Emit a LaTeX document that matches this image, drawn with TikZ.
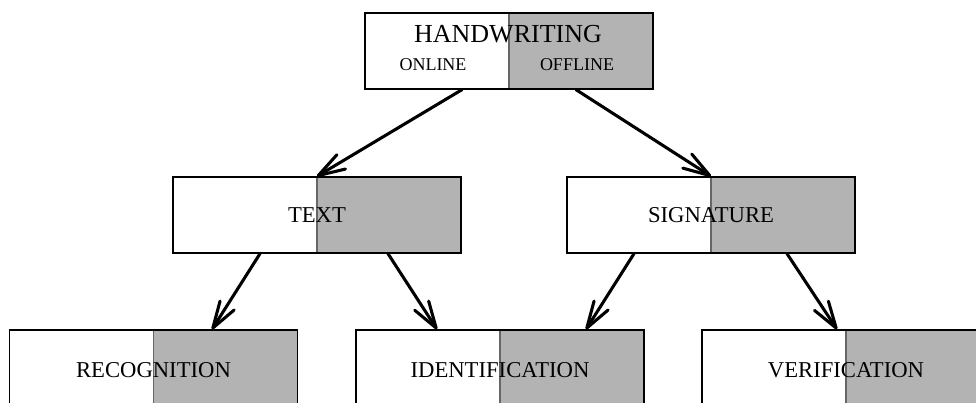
\documentclass[tikz,border=0pt]{standalone}
\usepackage{fontspec}
\setmainfont{Liberation Serif}
\usetikzlibrary{arrows.meta,calc}
\definecolor{halfgray}{HTML}{B3B3B3}
\definecolor{splitgray}{HTML}{666666}
\tikzset{
  splitbox/.style={draw=black, line width=1pt, minimum width=216pt, minimum height=57pt,
    inner sep=0pt, font=\fontsize{17}{20}\selectfont,
    path picture={
      \fill[halfgray] (path picture bounding box.north) rectangle (path picture bounding box.south east);
      \draw[splitgray, line width=0.8pt] (path picture bounding box.north) -- (path picture bounding box.south);
    }},
  toplabel/.style={inner sep=0pt, font=\fontsize{19.5}{22}\selectfont},
  sublabel/.style={inner sep=0pt, font=\fontsize{13.5}{16}\selectfont},
  link/.style={line width=2.3pt, line cap=round, -{Straight Barb[length=20pt,width=12.5pt,round]}}
}
\begin{document}
\begin{tikzpicture}[x=0.75pt,y=-0.75pt]
\useasboundingbox (0,0) rectangle (976,403);
\clip (0,0) rectangle (976,403);
% boxes
\node[splitbox] (hw) at (509,51) {};
\node[toplabel] (hwt) at (508,34) {HANDWRITING};
\node[sublabel] (on) at (433,65) {ONLINE};
\node[sublabel] (off) at (577,65) {OFFLINE};
\node[splitbox] (txt) at (317,215) {TEXT};
\node[splitbox] (sig) at (711,215) {SIGNATURE};
\node[splitbox, minimum height=60pt] (rec) at (153.5,370) {RECOGNITION};
\node[splitbox, minimum height=60pt] (ide) at (500,370) {IDENTIFICATION};
\node[splitbox, minimum height=60pt] (ver) at (846,370) {VERIFICATION};
% connectors
\draw[link] ($(hw.south)+(-47,0)$) -- (txt.north);
\draw[link] ($(hw.south)+(67,0)$) -- (sig.north);
\draw[link] ($(txt.south)+(-57,0)$) -- ($(rec.north)+(58.5,0)$);
\draw[link] ($(txt.south)+(71,0)$) -- ($(ide.north)+(-63,0)$);
\draw[link] ($(sig.south)+(-77,0)$) -- ($(ide.north)+(86,0)$);
\draw[link] ($(sig.south)+(76,0)$) -- ($(ver.north)+(-9,0)$);
\end{tikzpicture}
\end{document}
